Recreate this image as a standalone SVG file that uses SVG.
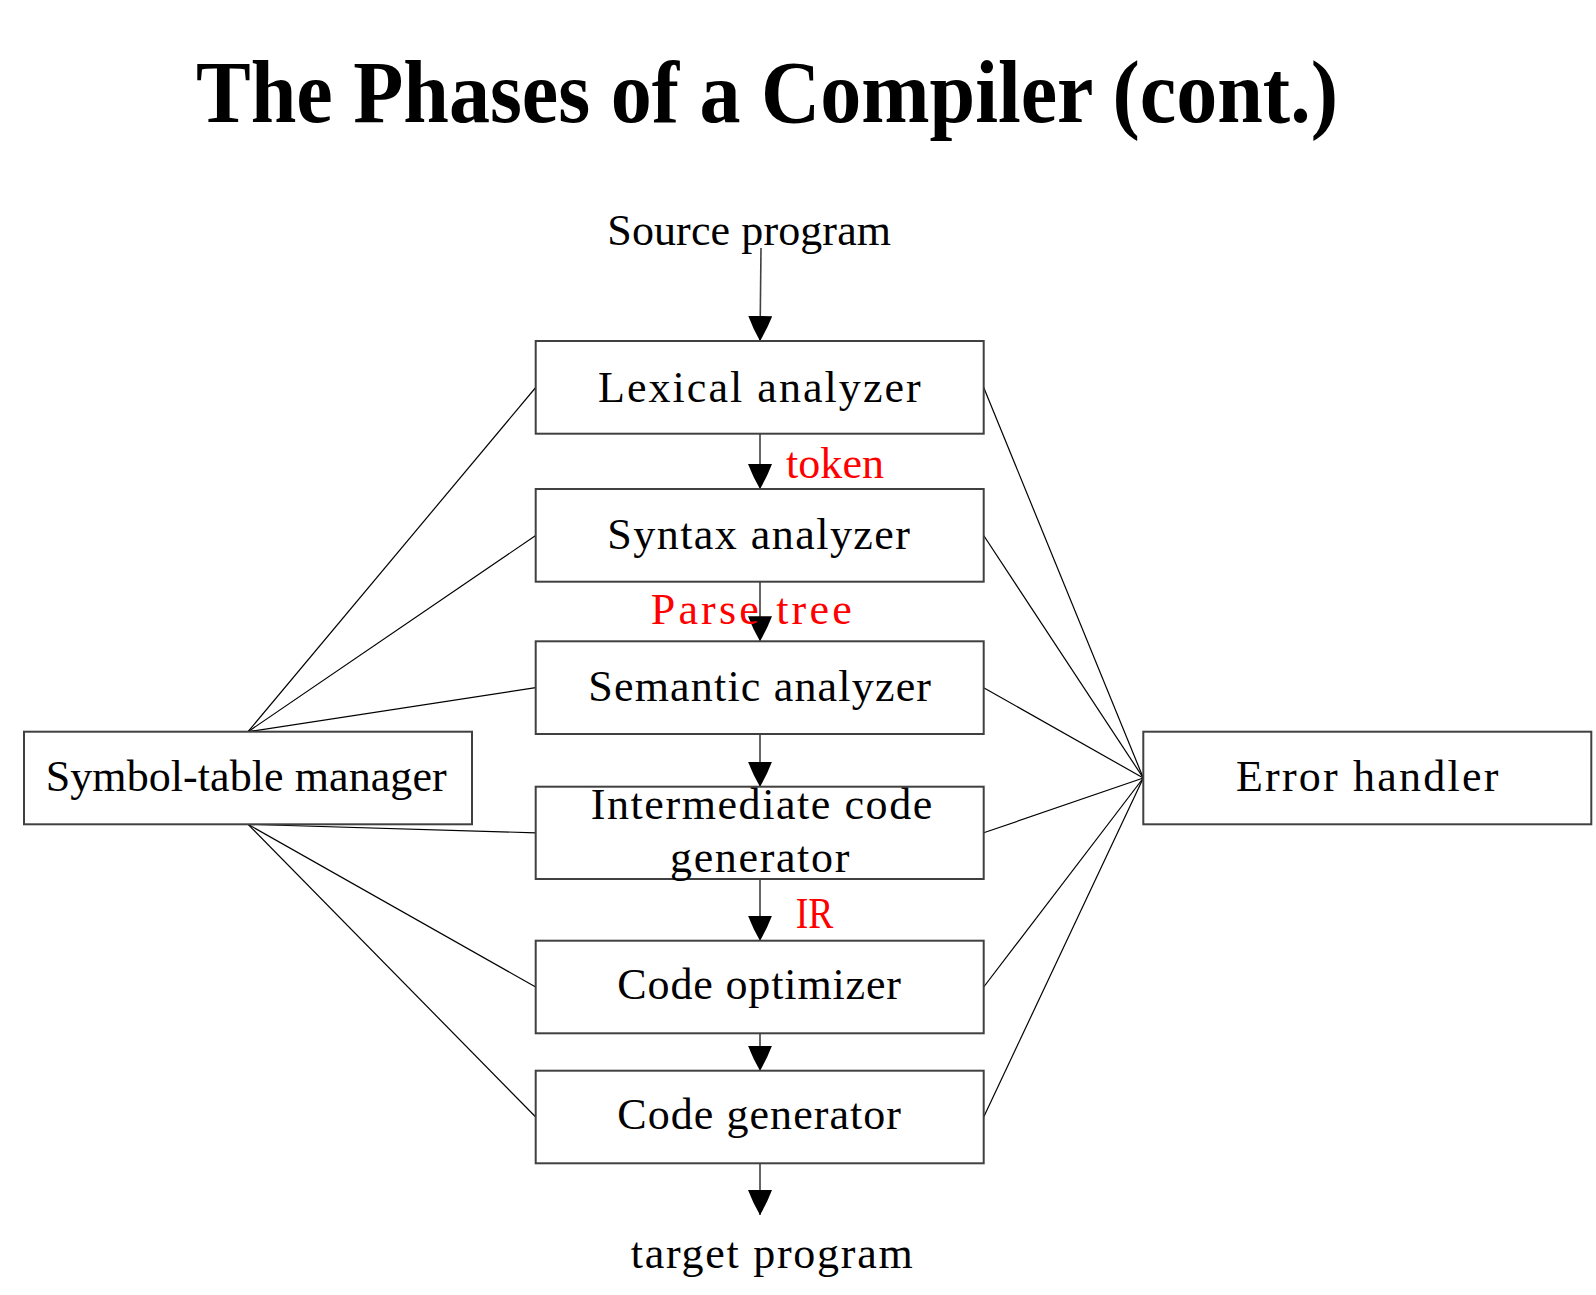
<svg xmlns="http://www.w3.org/2000/svg" width="1596" height="1295" viewBox="0 0 1596 1295">
<style>
.box{fill:#fff;stroke:#404040;stroke-width:2}
.t{font-family:"Liberation Serif","Times New Roman",serif;font-size:44px;fill:#000}
.r{fill:#ff0000}
.title{font-family:"Liberation Serif","Times New Roman",serif;font-weight:bold;font-size:89px;fill:#000}
.ln{stroke:#000;stroke-width:1.2;fill:none}
.ar{stroke:#404040;stroke-width:1.6;fill:none;marker-end:url(#ah)}
</style>
<defs>
<marker id="ah" markerUnits="userSpaceOnUse" markerWidth="26" markerHeight="24" viewBox="0 0 26 24" refX="25" refY="12" orient="auto">
<path d="M0,0 Q13,5 25,12 Q13,19 0,24 Z" fill="#000"/>
</marker>
</defs>
<rect width="1596" height="1295" fill="#fff"/>
<text class="title" x="196" y="122" textLength="1142" lengthAdjust="spacingAndGlyphs">The Phases of a Compiler (cont.)</text>

<g id="connectors">
<line class="ln" x1="248" y1="731.7" x2="535.7" y2="387.5"/>
<line class="ln" x1="248" y1="731.7" x2="535.7" y2="535.5"/>
<line class="ln" x1="248" y1="731.7" x2="535.7" y2="687.7"/>
<line class="ln" x1="248" y1="824.3" x2="535.7" y2="832.8"/>
<line class="ln" x1="248" y1="824.3" x2="535.7" y2="987"/>
<line class="ln" x1="248" y1="824.3" x2="535.7" y2="1117"/>
<line class="ln" x1="983.7" y1="387.5" x2="1143.3" y2="778"/>
<line class="ln" x1="983.7" y1="535.5" x2="1143.3" y2="778"/>
<line class="ln" x1="983.7" y1="687.7" x2="1143.3" y2="778"/>
<line class="ln" x1="983.7" y1="832.8" x2="1143.3" y2="778"/>
<line class="ln" x1="983.7" y1="987" x2="1143.3" y2="778"/>
<line class="ln" x1="983.7" y1="1117" x2="1143.3" y2="778"/>
<line class="ar" x1="761" y1="248" x2="760" y2="341"/>
<line class="ar" x1="760" y1="433.7" x2="760" y2="489"/>
<line class="ar" x1="760" y1="581.7" x2="760" y2="641.3"/>
<line class="ar" x1="760" y1="734" x2="760" y2="786.7"/>
<line class="ar" x1="760" y1="879" x2="760" y2="940.7"/>
<line class="ar" x1="760" y1="1033.3" x2="760" y2="1070.7"/>
<line class="ar" x1="760" y1="1163.3" x2="760" y2="1215"/>
</g>

<g id="source"><text class="t" x="607.3" y="245" textLength="283.7" lengthAdjust="spacing">Source program</text></g>
<g id="lexical"><rect class="box" x="535.7" y="341" width="448" height="92.7"/><text class="t" x="598" y="401.7" textLength="322.7" lengthAdjust="spacing">Lexical analyzer</text></g>
<g id="lbl-token"><text class="t r" x="786" y="478.3" textLength="98" lengthAdjust="spacing">token</text></g>
<g id="syntax"><rect class="box" x="535.7" y="489" width="448" height="92.7"/><text class="t" x="607.3" y="549" textLength="302.7" lengthAdjust="spacing">Syntax analyzer</text></g>
<g id="lbl-parse"><text class="t r" x="650.7" y="624" textLength="201" lengthAdjust="spacing">Parse tree</text></g>
<g id="semantic"><rect class="box" x="535.7" y="641.3" width="448" height="92.7"/><text class="t" x="588.3" y="700.7" textLength="342.7" lengthAdjust="spacing">Semantic analyzer</text></g>
<g id="intermediate"><rect class="box" x="535.7" y="786.7" width="448" height="92.3"/><text class="t" x="590.7" y="819.3" textLength="341.6" lengthAdjust="spacing">Intermediate code</text><text class="t" x="670" y="871.7" textLength="179.3" lengthAdjust="spacing">generator</text></g>
<g id="lbl-ir"><text class="t r" x="795.7" y="928.3" textLength="37.6" lengthAdjust="spacingAndGlyphs">IR</text></g>
<g id="optimizer"><rect class="box" x="535.7" y="940.7" width="448" height="92.6"/><text class="t" x="617.3" y="999" textLength="283.7" lengthAdjust="spacing">Code optimizer</text></g>
<g id="codegen"><rect class="box" x="535.7" y="1070.7" width="448" height="92.6"/><text class="t" x="617.3" y="1129" textLength="283.7" lengthAdjust="spacing">Code generator</text></g>
<g id="target"><text class="t" x="630.7" y="1268.3" textLength="282" lengthAdjust="spacing">target program</text></g>
<g id="symtab"><rect class="box" x="24" y="731.7" width="448" height="92.6"/><text class="t" x="45.7" y="790.7" textLength="401" lengthAdjust="spacing">Symbol-table manager</text></g>
<g id="error"><rect class="box" x="1143.3" y="731.7" width="448" height="92.6"/><text class="t" x="1236" y="790.7" textLength="262.3" lengthAdjust="spacing">Error handler</text></g>
</svg>
